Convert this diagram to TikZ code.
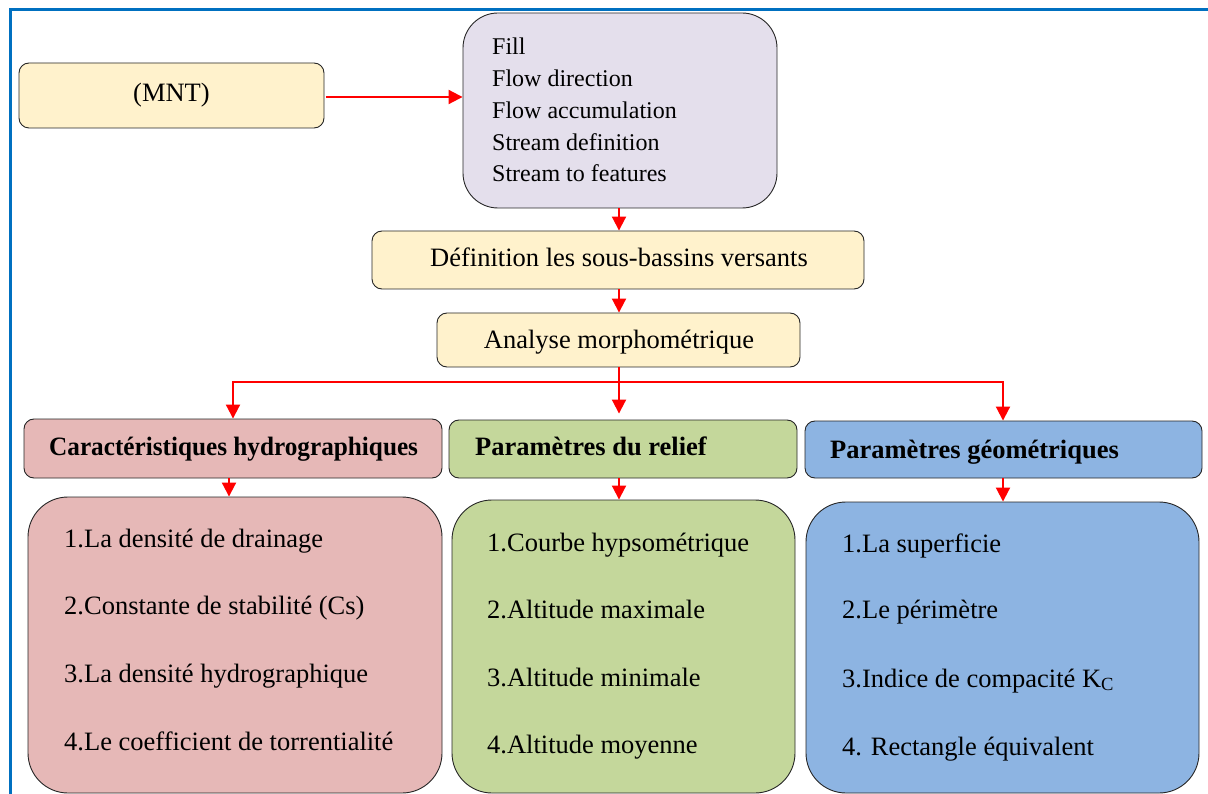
\documentclass[tikz,border=0pt]{standalone}
\usepackage{graphicx}
\usepackage{fontspec}
\setmainfont{Liberation Serif}
\usetikzlibrary{arrows.meta}
\definecolor{cyel}{HTML}{FFF2CC}
\definecolor{clav}{HTML}{E4DFEC}
\definecolor{cpink}{HTML}{E6B8B7}
\definecolor{cgreen}{HTML}{C4D79B}
\definecolor{cblue}{HTML}{8DB4E2}
\definecolor{cframe}{HTML}{0070C0}
\definecolor{cred}{HTML}{FF0000}
\tikzset{
  box/.style={draw=black!85, line width=0.9pt, rounded corners=10pt, inner sep=0pt},
  bigbox/.style={box, rounded corners=40pt},
  arr/.style={draw=cred, line width=2pt, -{Triangle[length=14pt,width=14pt]}},
  txt/.style={anchor=base west, inner sep=0pt, font=\fontsize{26.5}{32}\selectfont},
  ctxt/.style={anchor=base, inner sep=0pt, font=\fontsize{26.5}{32}\selectfont},
  stxt/.style={anchor=base west, inner sep=0pt, font=\fontsize{24}{30}\selectfont},
  htxt/.style={anchor=base west, inner sep=0pt, font=\fontsize{26.5}{32}\selectfont\bfseries},
}
\begin{document}
\begin{tikzpicture}[x=1pt,y=-1pt]
\useasboundingbox (0,0) rectangle (1208,794);
% frame
\draw[cframe, line width=3pt] (10,800) -- (10,10) -- (1215,10);

% top boxes
\node[box, fill=cyel, minimum width=305pt, minimum height=65pt] (mnt) at (171.5,95.5) {};
\node[ctxt] (mntt) at (171.5,102) {(MNT)};

\node[box, rounded corners=35pt, fill=clav, minimum width=314pt, minimum height=195pt] (tools) at (620,110.5) {};
\node[stxt] (t1) at (492,55) {Fill};
\node[stxt] (t2) at (492,87) {Flow direction};
\node[stxt] (t3) at (492,119) {Flow accumulation};
\node[stxt] (t4) at (492,151) {Stream definition};
\node[stxt] (t5) at (492,182) {Stream to features};

\node[box, fill=cyel, minimum width=492pt, minimum height=58pt] (def) at (618,260) {};
\node[ctxt] (deft) at (619,267) {Définition les sous-bassins versants};

\node[box, fill=cyel, minimum width=363pt, minimum height=54pt] (ana) at (618.5,340) {};
\node[ctxt] (anat) at (619,349) {Analyse morphométrique};

% headers
\node[box, fill=cpink, minimum width=418pt, minimum height=59pt] (phead) at (233,448.5) {};
\node[htxt] (pheadt) at (49,455) {\scalebox{0.952}[1]{Caractéristiques hydrographiques}};
\node[box, fill=cgreen, minimum width=348pt, minimum height=58pt] (ghead) at (623,449) {};
\node[htxt] (gheadt) at (475,455) {Paramètres du relief};
\node[box, fill=cblue, minimum width=397pt, minimum height=57pt] (bhead) at (1003.5,449.5) {};
\node[htxt] (bheadt) at (830,458) {Paramètres géométriques};

% bodies
\node[bigbox, fill=cpink, minimum width=414pt, minimum height=296pt] (pbody) at (235,645) {};
\node[txt] (p1) at (64,547) {1.La densité de drainage};
\node[txt] (p2) at (64,614) {2.Constante de stabilité (Cs)};
\node[txt] (p3) at (64,682) {3.La densité hydrographique};
\node[txt] (p4) at (64,750) {4.Le coefficient de torrentialité};

\node[bigbox, fill=cgreen, minimum width=343pt, minimum height=293pt] (gbody) at (623.5,646.5) {};
\node[txt] (g1) at (487,551) {1.Courbe hypsométrique};
\node[txt] (g2) at (487,618) {2.Altitude maximale};
\node[txt] (g3) at (487,686) {3.Altitude minimale};
\node[txt] (g4) at (487,753) {4.Altitude moyenne};

\node[bigbox, fill=cblue, minimum width=393pt, minimum height=291pt] (bbody) at (1002.5,647.5) {};
\node[txt] (b1) at (842,552) {1.La superficie};
\node[txt] (b2) at (842,618) {2.Le périmètre};
\node[txt] (b3) at (842,687) {3.Indice de compacité K\textsubscript{C}};
\node[txt] (b4) at (842,755) {4. Rectangle équivalent};

% connectors
\draw[arr] ([xshift=1.5pt,yshift=-1.5pt]mnt.east) -- ([yshift=-1.5pt]mnt.east -| tools.west);
\draw[arr] ([xshift=-1pt]tools.south) -- ([xshift=-1pt]tools.south |- def.north);
\draw[arr] ([xshift=1pt]def.south) -- ([xshift=1pt]def.south |- ana.north);
\coordinate (j) at ([xshift=0.5pt]ana.south |- 0,382);
\draw[arr, shorten >=6pt] ([xshift=0.5pt]ana.south) -- ([xshift=0.5pt]ana.south |- ghead.north);
\draw[arr] (j) -| (phead.north);
\draw[arr] (j) -| ([xshift=-0.5pt]bhead.north);
\draw[arr] ([xshift=-4pt]phead.south) -- ([xshift=-4pt]phead.south |- pbody.north);
\draw[arr] ([xshift=-4pt]ghead.south) -- ([xshift=-4pt]ghead.south |- gbody.north);
\draw[arr] ([xshift=-0.5pt]bhead.south) -- ([xshift=-0.5pt]bhead.south |- bbody.north);
\end{tikzpicture}
\end{document}
